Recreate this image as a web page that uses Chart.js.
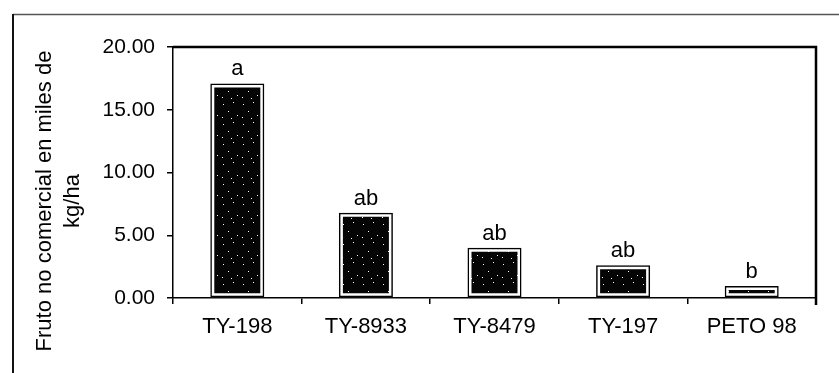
<!DOCTYPE html>
<html>
<head>
<meta charset="utf-8">
<script src="https://cdn.jsdelivr.net/npm/chart.js@4.4.1/dist/chart.umd.min.js"></script>
<style>
  html, body { margin: 0; padding: 0; background: #fff; }
  #wrap { width: 839px; height: 373px; }
</style>
</head>
<body>
<div id="wrap"><canvas id="frutoChart" width="839" height="373"></canvas></div>
<script>
// datos
const variedades = ['TY-198', 'TY-8933', 'TY-8479', 'TY-197', 'PETO 98'];
const frutoNoComercial = [17.1, 6.8, 4.0, 2.6, 0.95];
const letrasTukey = ['a', 'ab', 'ab', 'ab', 'b'];
const yTicks = [0, 5, 10, 15, 20];
const tituloY = ['Fruto no comercial en miles de', 'kg/ha'];

const FONT = '"Liberation Sans", Arial, sans-serif';

// relleno punteado (negro con motas blancas)
function makeStipple() {
    const c = document.createElement('canvas');
    c.width = 20; c.height = 20;
    const g = c.getContext('2d');
    g.fillStyle = '#050505';
    g.fillRect(0, 0, 20, 20);
    g.fillStyle = '#fff';
    const dots = [[3,4],[13,2],[8,11],[17,15],[2,17],[11,18]];
    dots.forEach(d => g.fillRect(d[0], d[1], 1, 1));
    return g.createPattern(c, 'repeat');
}

// marco exterior, borde del area y letras sobre las barras
const decoPlugin = {
    id: 'deco',
    beforeDraw(chart) {
        const ctx = chart.ctx;
        ctx.save();
        ctx.fillStyle = '#fff';
        ctx.fillRect(0, 0, chart.width, chart.height);
        ctx.strokeStyle = '#555';
        ctx.lineWidth = 1.5;
        ctx.beginPath();
        ctx.moveTo(13, 14.5);
        ctx.lineTo(chart.width, 14.5);
        ctx.stroke();
        ctx.strokeStyle = '#111';
        ctx.lineWidth = 2;
        ctx.beginPath();
        ctx.moveTo(13, 14);
        ctx.lineTo(13, chart.height);
        ctx.stroke();
        ctx.restore();
    },
    afterDraw(chart) {
        const ctx = chart.ctx;
        const a = chart.chartArea;
        ctx.save();
        ctx.strokeStyle = '#000';
        ctx.lineWidth = 2.5;
        ctx.beginPath();
        ctx.moveTo(a.left, a.top);
        ctx.lineTo(a.right, a.top);
        ctx.lineTo(a.right, a.bottom + 7);
        ctx.stroke();

        // titulo del eje Y en dos lineas
        ctx.fillStyle = '#000';
        ctx.font = '22px ' + FONT;
        ctx.textAlign = 'center';
        ctx.textBaseline = 'middle';
        ctx.translate(0, 201);
        ctx.rotate(-Math.PI / 2);
        ctx.fillText(tituloY[0], 0, 45);
        ctx.fillText(tituloY[1], 0, 73);
        ctx.restore();

        // letras de significancia
        const meta = chart.getDatasetMeta(0);
        ctx.save();
        ctx.fillStyle = '#000';
        ctx.font = '22px ' + FONT;
        ctx.textAlign = 'center';
        ctx.textBaseline = 'alphabetic';
        meta.data.forEach((bar, i) => {
            ctx.fillText(letrasTukey[i], bar.x, bar.y - 8);
        });
        ctx.restore();
    }
};

const ctx = document.getElementById('frutoChart').getContext('2d');
new Chart(ctx, {
    type: 'bar',
    data: {
        labels: variedades,
        datasets: [{
            data: frutoNoComercial,
            backgroundColor: makeStipple(),
            borderColor: '#fff',
            borderWidth: 4,
            borderSkipped: false,
            grouped: false,
            barPercentage: 0.42,
            categoryPercentage: 1,
            order: 1
        }, {
            data: frutoNoComercial,
            backgroundColor: 'rgba(0,0,0,0)',
            borderColor: '#000',
            borderWidth: 1.5,
            borderSkipped: false,
            grouped: false,
            barPercentage: 0.42,
            categoryPercentage: 1,
            order: 0
        }]
    },
    options: {
        responsive: false,
        animation: false,
        devicePixelRatio: 1,
        layout: { padding: { left: 0, right: 23, top: 47, bottom: 0 } },
        plugins: {
            legend: { display: false },
            tooltip: { enabled: false }
        },
        scales: {
            x: {
                afterFit: function(scale) { scale.height = 75; },
                grid: {
                    display: true,
                    drawOnChartArea: false,
                    drawTicks: true,
                    tickLength: 6,
                    color: '#000',
                    lineWidth: 1.5
                },
                border: { display: true, color: '#000', width: 1.5 },
                ticks: {
                    color: '#000',
                    padding: 10,
                    maxRotation: 0,
                    font: { family: FONT, size: 22 }
                }
            },
            y: {
                min: 0,
                max: 20,
                afterFit: function(scale) { scale.width = 173; },
                afterBuildTicks: function(scale) {
                    scale.ticks = yTicks.map(v => ({ value: v }));
                },
                grid: {
                    display: true,
                    drawOnChartArea: false,
                    drawTicks: true,
                    tickLength: 6,
                    color: '#000',
                    lineWidth: 1.5
                },
                border: { display: true, color: '#000', width: 1.5 },
                ticks: {
                    color: '#000',
                    padding: 12,
                    font: { family: FONT, size: 21 },
                    callback: function(value) {
                        return Number(value).toFixed(2);
                    }
                }
            }
        }
    },
    plugins: [decoPlugin]
});
</script>
</body>
</html>
